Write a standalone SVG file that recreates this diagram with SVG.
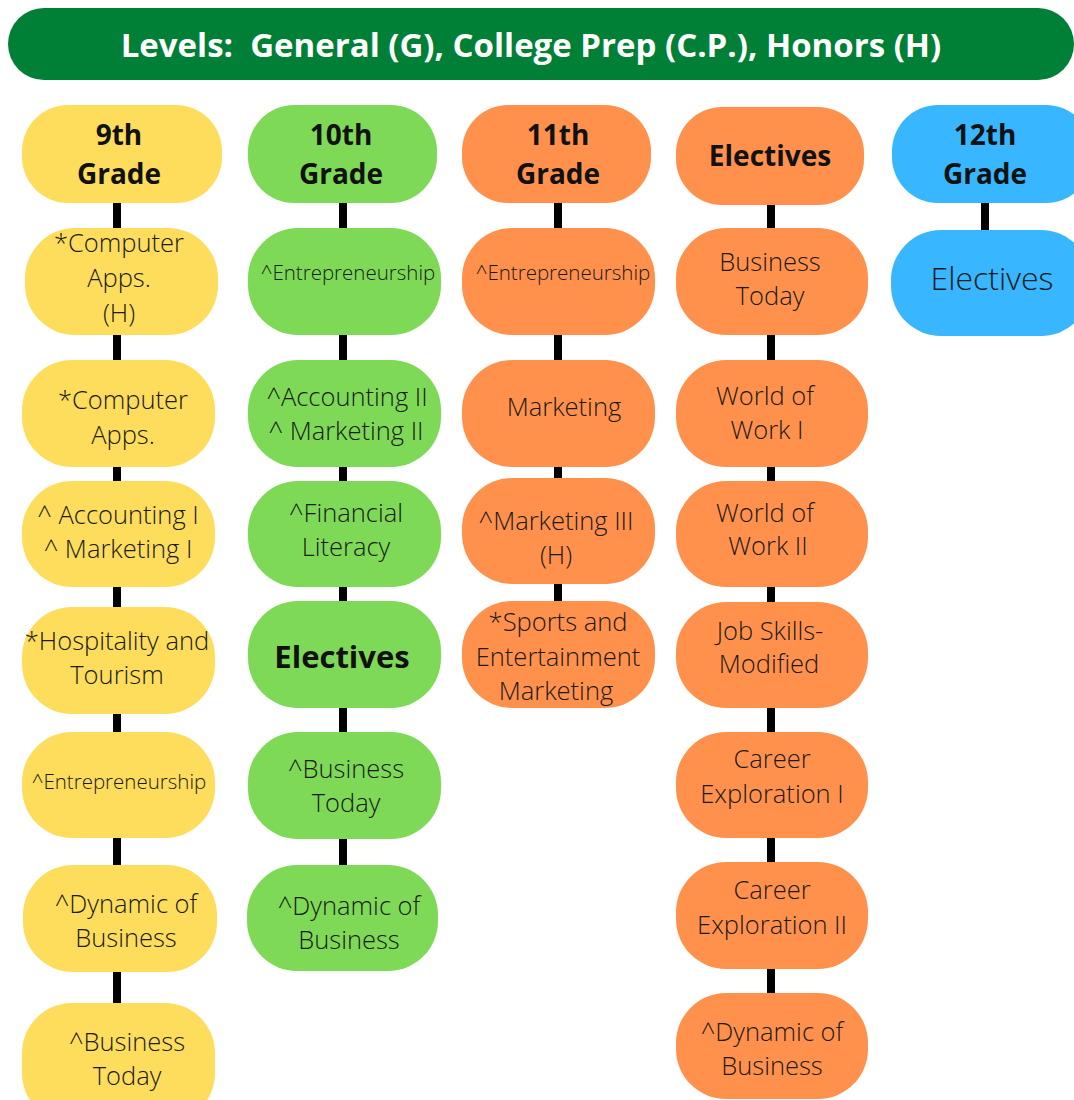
<svg xmlns="http://www.w3.org/2000/svg" width="1074" height="1100" viewBox="0 0 1074 1100">
<style>
.y{fill:#fedd5d}
.g{fill:#7ed957}
.o{fill:#ff914d}
.b{fill:#38b6ff}
.t{font-family:"Open Sans","Liberation Sans",sans-serif;font-size:25.5px;fill:#1a1a1a;text-anchor:middle;font-weight:300}
.s{font-size:20.5px}
.h{font-family:"Open Sans","Liberation Sans",sans-serif;font-size:28px;font-weight:700;fill:#111;text-anchor:middle}
.c{stroke:#000;stroke-width:8}
</style>
<rect x="8" y="8" width="1066" height="72" rx="36" fill="#007f37"/>
<text x="531" y="57" font-family="'Open Sans','Liberation Sans',sans-serif" font-size="33" font-weight="700" fill="#fff" text-anchor="middle" xml:space="preserve">Levels:  General (G), College Prep (C.P.), Honors (H)</text>
<g id="connectors">
<line class="c" x1="117" y1="200" x2="117" y2="232"/>
<line class="c" x1="117" y1="332" x2="117" y2="364"/>
<line class="c" x1="117" y1="464" x2="117" y2="485"/>
<line class="c" x1="117" y1="584" x2="117" y2="611"/>
<line class="c" x1="117" y1="711" x2="117" y2="736"/>
<line class="c" x1="117" y1="835" x2="117" y2="869"/>
<line class="c" x1="117" y1="969" x2="117" y2="1007"/>
<line class="c" x1="343" y1="200" x2="343" y2="232"/>
<line class="c" x1="343" y1="332" x2="343" y2="364"/>
<line class="c" x1="343" y1="464" x2="343" y2="485"/>
<line class="c" x1="343" y1="584" x2="343" y2="605"/>
<line class="c" x1="343" y1="705" x2="343" y2="736"/>
<line class="c" x1="343" y1="836" x2="343" y2="869"/>
<line class="c" x1="558" y1="200" x2="558" y2="232"/>
<line class="c" x1="558" y1="332" x2="558" y2="364"/>
<line class="c" x1="558" y1="464" x2="558" y2="482"/>
<line class="c" x1="558" y1="581" x2="558" y2="605"/>
<line class="c" x1="771" y1="202" x2="771" y2="232"/>
<line class="c" x1="771" y1="332" x2="771" y2="364"/>
<line class="c" x1="771" y1="464" x2="771" y2="485"/>
<line class="c" x1="771" y1="584" x2="771" y2="605"/>
<line class="c" x1="771" y1="705" x2="771" y2="736"/>
<line class="c" x1="771" y1="835" x2="771" y2="866"/>
<line class="c" x1="771" y1="966" x2="771" y2="997"/>
<line class="c" x1="985" y1="200" x2="985" y2="234"/>
</g>
<g id="n9"><rect class="y" x="22" y="105" width="200" height="98" rx="46"/><text class="h" x="119" y="145">9th</text><text class="h" x="119" y="184">Grade</text></g>
<g id="n9a"><rect class="y" x="25" y="228" width="193" height="107" rx="50"/><text class="t" x="119" y="252">*Computer</text><text class="t" x="119" y="287">Apps.</text><text class="t" x="119" y="322">(H)</text></g>
<g id="n9b"><rect class="y" x="22" y="360" width="193" height="107" rx="50"/><text class="t" x="123" y="409">*Computer</text><text class="t" x="123" y="444">Apps.</text></g>
<g id="n9c"><rect class="y" x="22" y="481" width="193" height="106" rx="50"/><text class="t" x="118" y="524">^ Accounting I</text><text class="t" x="118" y="558">^ Marketing I</text></g>
<g id="n9d"><rect class="y" x="22" y="607" width="193" height="107" rx="50"/><text class="t" x="117" y="650">*Hospitality and</text><text class="t" x="117" y="684">Tourism</text></g>
<g id="n9e"><rect class="y" x="22" y="732" width="193" height="106" rx="50"/><text class="t s" x="119" y="789">^Entrepreneurship</text></g>
<g id="n9f"><rect class="y" x="23" y="865" width="194" height="107" rx="50"/><text class="t" x="126" y="913">^Dynamic of</text><text class="t" x="126" y="947">Business</text></g>
<g id="n9g"><rect class="y" x="22" y="1003" width="193" height="120" rx="50"/><text class="t" x="127" y="1051">^Business</text><text class="t" x="127" y="1085">Today</text></g>

<g id="n10"><rect class="g" x="248" y="105" width="189" height="98" rx="46"/><text class="h" x="341" y="145">10th</text><text class="h" x="341" y="184">Grade</text></g>
<g id="n10a"><rect class="g" x="248" y="228" width="193" height="107" rx="50"/><text class="t s" x="348" y="280">^Entrepreneurship</text></g>
<g id="n10b"><rect class="g" x="248" y="360" width="193" height="107" rx="50"/><text class="t" x="347" y="406">^Accounting II</text><text class="t" x="346" y="440">^ Marketing II</text></g>
<g id="n10c"><rect class="g" x="248" y="481" width="193" height="106" rx="50"/><text class="t" x="346" y="522">^Financial</text><text class="t" x="346" y="556">Literacy</text></g>
<g id="n10d"><rect class="g" x="248" y="601" width="193" height="107" rx="50"/><text class="h" x="342" y="668" style="font-size:31px">Electives</text></g>
<g id="n10e"><rect class="g" x="248" y="732" width="193" height="107" rx="50"/><text class="t" x="346" y="778">^Business</text><text class="t" x="346" y="812">Today</text></g>
<g id="n10f"><rect class="g" x="247" y="865" width="191" height="106" rx="50"/><text class="t" x="349" y="915">^Dynamic of</text><text class="t" x="349" y="949">Business</text></g>

<g id="n11"><rect class="o" x="462" y="105" width="189" height="98" rx="46"/><text class="h" x="558" y="145">11th</text><text class="h" x="558" y="184">Grade</text></g>
<g id="n11a"><rect class="o" x="462" y="228" width="193" height="107" rx="50"/><text class="t s" x="563" y="280">^Entrepreneurship</text></g>
<g id="n11b"><rect class="o" x="462" y="360" width="193" height="107" rx="50"/><text class="t" x="564" y="416">Marketing</text></g>
<g id="n11c"><rect class="o" x="462" y="478" width="193" height="106" rx="50"/><text class="t" x="556" y="530">^Marketing III</text><text class="t" x="556" y="564">(H)</text></g>
<g id="n11d"><rect class="o" x="462" y="601" width="193" height="107" rx="50"/><text class="t" x="558" y="631">*Sports and</text><text class="t" x="558" y="666">Entertainment</text><text class="t" x="556" y="700">Marketing</text></g>

<g id="ne"><rect class="o" x="676" y="107" width="188" height="98" rx="46"/><text class="h" x="770" y="166">Electives</text></g>
<g id="nea"><rect class="o" x="676" y="228" width="192" height="107" rx="50"/><text class="t" x="770" y="271">Business</text><text class="t" x="770" y="305">Today</text></g>
<g id="neb"><rect class="o" x="676" y="360" width="192" height="107" rx="50"/><text class="t" x="765" y="405">World of</text><text class="t" x="767" y="439">Work I</text></g>
<g id="nec"><rect class="o" x="676" y="481" width="192" height="106" rx="50"/><text class="t" x="765" y="522">World of</text><text class="t" x="768" y="555">Work II</text></g>
<g id="ned"><rect class="o" x="676" y="602" width="192" height="106" rx="50"/><text class="t" x="770" y="640">Job Skills-</text><text class="t" x="769" y="673">Modified</text></g>
<g id="nee"><rect class="o" x="676" y="732" width="192" height="106" rx="50"/><text class="t" x="772" y="768">Career</text><text class="t" x="772" y="803">Exploration I</text></g>
<g id="nef"><rect class="o" x="676" y="862" width="192" height="107" rx="50"/><text class="t" x="772" y="899">Career</text><text class="t" x="772" y="934">Exploration II</text></g>
<g id="neg"><rect class="o" x="676" y="993" width="192" height="106" rx="50"/><text class="t" x="772" y="1041">^Dynamic of</text><text class="t" x="772" y="1075">Business</text></g>

<g id="n12"><rect class="b" x="892" y="105" width="200" height="98" rx="46"/><text class="h" x="985" y="145">12th</text><text class="h" x="985" y="184">Grade</text></g>
<g id="n12a"><rect class="b" x="891" y="230" width="200" height="106" rx="50"/><text class="t" x="992" y="290" style="font-size:32px">Electives</text></g>
</svg>
